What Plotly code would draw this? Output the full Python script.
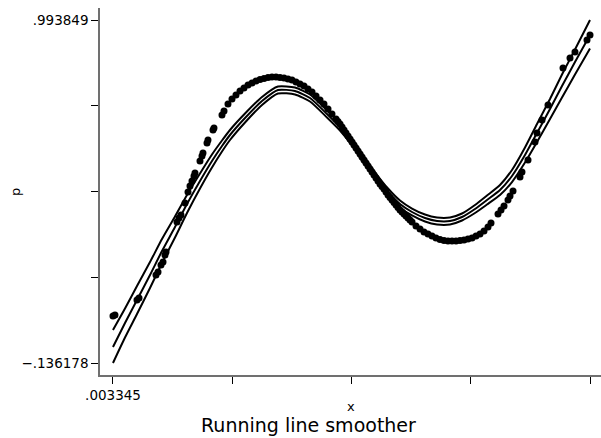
import plotly.graph_objects as go

# scatter points (x, p)
pts_x = [0.0033, 0.0116, 0.1026, 0.1109, 0.1812, 0.1895, 0.2019, 0.2102, 0.2184, 0.2226,
         0.2681, 0.2763, 0.2846, 0.3012, 0.3136, 0.3218, 0.3301, 0.3384, 0.3425,
         0.3632, 0.3715, 0.3756, 0.3922, 0.3963, 0.4170, 0.4211, 0.4542, 0.4625,
         0.4790, 0.4956, 0.5121, 0.5287, 0.5452, 0.5618, 0.5783, 0.5949, 0.6114, 0.6280,
         0.6445, 0.6610, 0.6776, 0.6941, 0.7107, 0.7272, 0.7438, 0.7603, 0.7769, 0.7934,
         0.8100, 0.8265, 0.8431, 0.8596, 0.8761, 0.8927, 0.9092, 0.9258, 0.9340, 0.9423,
         0.9506, 0.9589, 0.9671, 0.9754, 0.9837, 0.9920, 1.0002, 1.0085, 1.0168, 1.0251,
         1.0333, 1.0416, 1.0499, 1.0582, 1.0664, 1.0747, 1.0829, 1.0912, 1.0995, 1.1078,
         1.1160, 1.1243, 1.1326, 1.1409, 1.1491, 1.1574, 1.1657, 1.1740, 1.1822, 1.1905,
         1.1988, 1.2071, 1.2153, 1.2236, 1.2319, 1.2402, 1.2567, 1.2733, 1.2898,
         1.3063, 1.3229, 1.3394, 1.3560, 1.3725, 1.3891, 1.4056, 1.4222, 1.4387, 1.4553,
         1.4718, 1.4884, 1.5049, 1.5214, 1.5380, 1.5545, 1.5669, 1.5959, 1.6083, 1.6207,
         1.6372, 1.6455, 1.6579, 1.6869, 1.6951, 1.7200, 1.7489, 1.7572, 1.7779, 1.8027,
         1.8647, 1.8937, 1.9143, 1.9640, 1.9764]
pts_p = [0.0187, 0.0220, 0.0714, 0.0780, 0.1537, 0.1636, 0.1867, 0.1966, 0.2196, 0.2295,
         0.3284, 0.3415, 0.3514, 0.3909, 0.4272, 0.4470, 0.4634, 0.4799, 0.4898,
         0.5293, 0.5458, 0.5557, 0.5886, 0.5985, 0.6315, 0.6381, 0.6809, 0.6941,
         0.7171, 0.7336, 0.7468, 0.7599, 0.7698, 0.7797, 0.7863, 0.7929, 0.7979, 0.8011,
         0.8044, 0.8061, 0.8061, 0.8044, 0.8028, 0.7995, 0.7962, 0.7896, 0.7830, 0.7764,
         0.7665, 0.7566, 0.7435, 0.7303, 0.7171, 0.7006, 0.6842, 0.6677, 0.6595, 0.6512,
         0.6413, 0.6315, 0.6216, 0.6117, 0.6018, 0.5919, 0.5820, 0.5721, 0.5623, 0.5524,
         0.5425, 0.5326, 0.5227, 0.5128, 0.5030, 0.4931, 0.4832, 0.4733, 0.4634, 0.4535,
         0.4453, 0.4371, 0.4272, 0.4173, 0.4091, 0.4008, 0.3926, 0.3844, 0.3761, 0.3679,
         0.3613, 0.3547, 0.3481, 0.3415, 0.3349, 0.3284, 0.3152, 0.3053, 0.2954,
         0.2888, 0.2822, 0.2757, 0.2707, 0.2674, 0.2658, 0.2658, 0.2658, 0.2674, 0.2691,
         0.2724, 0.2757, 0.2822, 0.2888, 0.2987, 0.3119, 0.3251, 0.3547, 0.3679, 0.3811,
         0.4008, 0.4140, 0.4305, 0.4766, 0.4931, 0.5326, 0.5919, 0.6216, 0.6644, 0.7138,
         0.8357, 0.8687, 0.8884, 0.9280, 0.9444]

# running line smoother and its bands
line_x = [0.0033, 0.0530, 0.1026, 0.1564, 0.2060, 0.2598, 0.3094, 0.3632, 0.4128, 0.4542,
          0.4873, 0.5494, 0.6197, 0.6858, 0.7562, 0.8182, 0.8885, 0.9423, 0.9920, 1.0416,
          1.0912, 1.1409, 1.1905, 1.2402, 1.2939, 1.3436, 1.3973, 1.4470, 1.5007, 1.5504,
          1.6041, 1.6537, 1.7075, 1.7572, 1.8109, 1.8606, 1.9143, 1.9764]
smooth = [-0.0835, -0.0044, 0.0714, 0.1537, 0.2328, 0.3119, 0.3877, 0.4634, 0.5293, 0.5787,
          0.6150, 0.6710, 0.7270, 0.7632, 0.7599, 0.7369, 0.6842, 0.6413, 0.5919, 0.5326,
          0.4766, 0.4272, 0.3877, 0.3613, 0.3415, 0.3317, 0.3317, 0.3448, 0.3712, 0.4008,
          0.4338, 0.4799, 0.5491, 0.6216, 0.7006, 0.7764, 0.8555, 0.9444]
upper = [-0.0274, 0.0434, 0.1175, 0.1965, 0.2723, 0.3465, 0.4174, 0.4881, 0.5507, 0.5968,
         0.6315, 0.6858, 0.7402, 0.7747, 0.7714, 0.7484, 0.6957, 0.6528, 0.6034, 0.5441,
         0.4881, 0.4387, 0.3992, 0.3728, 0.3530, 0.3432, 0.3432, 0.3563, 0.3844, 0.4156,
         0.4503, 0.4997, 0.5738, 0.6513, 0.7335, 0.8143, 0.8967, 0.9938]
lower = [-0.1362, -0.0522, 0.0253, 0.1109, 0.1933, 0.2773, 0.3580, 0.4387, 0.5079, 0.5606,
         0.5985, 0.6562, 0.7138, 0.7517, 0.7484, 0.7254, 0.6727, 0.6298, 0.5804, 0.5211,
         0.4651, 0.4157, 0.3762, 0.3498, 0.3300, 0.3202, 0.3202, 0.3333, 0.3580, 0.3860,
         0.4173, 0.4601, 0.5244, 0.5919, 0.6677, 0.7385, 0.8143, 0.9000]

x_ticks = [0.003345, 0.49661, 0.98988, 1.48314, 1.97641]
x_ticktext = [".003345", "", "", "", "1.97641"]
y_ticks = [0.993849, 0.711342, 0.428836, 0.146329, -0.136178]
y_ticktext = [".993849", "", "", "", "−.136178"]

FONT = "DejaVu Sans"

fig = go.Figure()
fig.add_trace(go.Scatter(x=pts_x, y=pts_p, mode="markers",
                         marker=dict(color="black", size=7, line=dict(width=0)),
                         showlegend=False, hoverinfo="skip"))
for ys in (upper, smooth, lower):
    fig.add_trace(go.Scatter(x=line_x, y=ys, mode="lines",
                             line=dict(color="black", width=2, shape="spline", smoothing=0.6),
                             showlegend=False, hoverinfo="skip"))

fig.update_layout(
    width=601, height=438,
    margin=dict(l=100, r=0, t=8, b=63),
    paper_bgcolor="white", plot_bgcolor="white",
    font=dict(family=FONT, size=13.5, color="black"),
    xaxis=dict(range=[-0.0504, 2.0219], showgrid=False, zeroline=False,
               showline=True, linecolor="#707070", linewidth=1.5,
               ticks="outside", ticklen=7, tickwidth=1, tickcolor="black",
               tickvals=x_ticks, ticktext=x_ticktext,
               tickfont=dict(family=FONT, size=13.5, color="black")),
    yaxis=dict(range=[-0.1757, 1.0334], showgrid=False, zeroline=False,
               showline=True, linecolor="#707070", linewidth=1.5,
               ticks="outside", ticklen=7, tickwidth=1, tickcolor="black",
               tickvals=y_ticks, ticktext=y_ticktext,
               tickfont=dict(family=FONT, size=13.5, color="black")),
    annotations=[
        dict(text="x", xref="paper", yref="paper", x=0.501, y=-0.087,
             xanchor="center", yanchor="middle", showarrow=False,
             font=dict(family=FONT, size=13, color="black")),
        dict(text="p", xref="paper", yref="paper", x=-0.1697, y=0.4986,
             xanchor="center", yanchor="middle", showarrow=False, textangle=-90,
             font=dict(family=FONT, size=13, color="black")),
        dict(text="Running line smoother", xref="paper", yref="paper", x=0.417, y=-0.136,
             xanchor="center", yanchor="middle", showarrow=False,
             font=dict(family=FONT, size=19, color="black")),
    ],
)

fig.write_html("out.html")
